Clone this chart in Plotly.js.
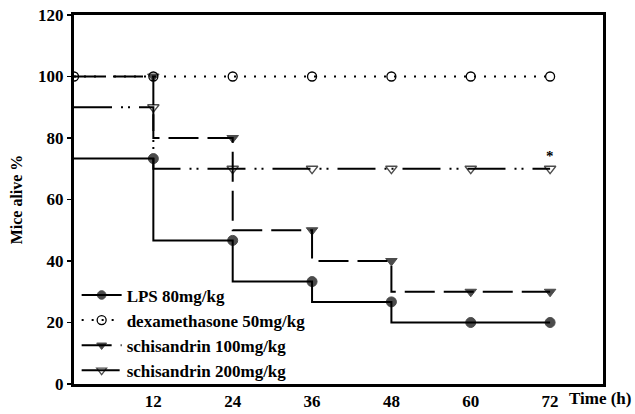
<!DOCTYPE html>
<html>
<head>
<meta charset="utf-8">
<script src="https://cdn.plot.ly/plotly-3.0.1.min.js"></script>
<style>html,body{margin:0;padding:0;background:#fff;}#chart{width:635px;height:414px;}</style>
</head>
<body>
<div id="chart"></div>
<script>
const times = [0, 12, 24, 36, 48, 60, 72];
const lps = [73.3, 73.3, 46.7, 33.3, 26.7, 20, 20];
const dexa = [100, 100, 100, 100, 100, 100, 100];
const schis100 = [100, 100, 80, 50, 40, 30, 30];
const schis200 = [90, 90, 70, 70, 70, 70, 70];
const names = ["LPS 80mg/kg", "dexamethasone 50mg/kg", "schisandrin 100mg/kg", "schisandrin 200mg/kg"];
const xTicks = [12, 24, 36, 48, 60, 72];
const yTicks = [0, 20, 40, 60, 80, 100, 120];

const F = "Liberation Serif, Times New Roman, serif";
const hideFirst = (s) => times.map((t, i) => i === 0 ? 0 : s);
const tf = {family: F, size: 17, color: "#000", weight: 700};

const traces = [
  {x: times, y: lps, name: names[0], mode: "lines+markers", line: {shape: "vh", color: "#000", width: 2, dash: "solid"},
   marker: {symbol: "circle", size: hideFirst(10), color: "#000", line: {width: 1, color: "#000"}}},
  {x: times, y: dexa, name: names[1], mode: "lines+markers", line: {shape: "vh", color: "#000", width: 2, dash: "2px,8px"},
   marker: {symbol: "circle-open", size: 9, color: "#000", line: {width: 1.3, color: "#000"}}},
  {x: times, y: schis100, name: names[2], mode: "lines+markers", line: {shape: "vh", color: "#000", width: 2, dash: "30px,9px"},
   marker: {symbol: "triangle-down", size: hideFirst(10), color: "#000", line: {width: 1, color: "#000"}}},
  {x: times, y: schis200, name: names[3], mode: "lines+markers", line: {shape: "vh", color: "#000", width: 2, dash: "38px,9px,2px,5px,2px,9px"},
   marker: {symbol: "triangle-down-open", size: hideFirst(10), color: "#000", line: {width: 1.3, color: "#000"}}}
];

const layout = {
  width: 635, height: 414,
  margin: {l: 74, r: 32, t: 15, b: 30},
  paper_bgcolor: "#fff", plot_bgcolor: "#fff",
  font: tf,
  showlegend: true,
  legend: {x: 0.005, y: -0.012, xanchor: "left", yanchor: "bottom", bgcolor: "rgba(0,0,0,0)",
           font: tf, tracegroupgap: 0, itemwidth: 40},
  xaxis: {range: [0, 80], tickvals: xTicks, ticktext: xTicks.map(String), showgrid: false, zeroline: false,
          showline: true, linecolor: "#000", linewidth: 3, mirror: true, ticks: "", ticklen: 0,
          tickfont: tf},
  yaxis: {range: [0, 120], tickvals: yTicks, ticktext: yTicks.map(String), showgrid: false, zeroline: false,
          showline: true, linecolor: "#000", linewidth: 3, mirror: true, ticks: "outside", ticklen: 4, tickwidth: 1.5, tickcolor: "#000",
          tickfont: tf,
          title: {text: "Mice alive %", standoff: 12, font: {family: F, size: 16, color: "#000", weight: 700}}},
  annotations: [
    {x: 72, y: 70, xref: "x", yref: "y", text: "*", showarrow: false, yshift: 13, font: {family: F, size: 15, color: "#000"}},
    {x: 1.0586, y: 0, xref: "paper", yref: "paper", text: "Time (h)", showarrow: false, xanchor: "right", yanchor: "top", yshift: -3,
     font: tf}
  ]
};

Plotly.newPlot("chart", traces, layout, {displayModeBar: false, staticPlot: true});
</script>
</body>
</html>
